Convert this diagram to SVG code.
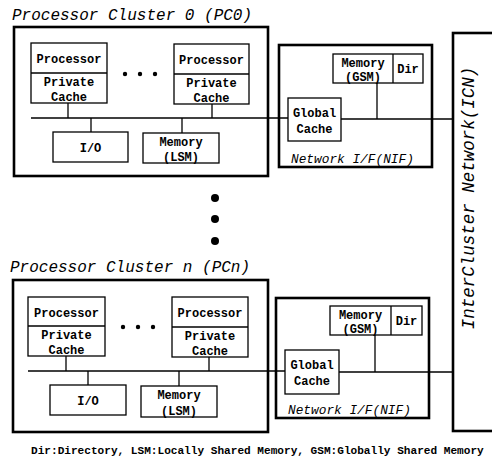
<svg xmlns="http://www.w3.org/2000/svg" width="492" height="458" viewBox="0 0 492 458">
<style>
.thick{fill:none;stroke:#000;stroke-width:2.6}
.box{fill:#fff;stroke:#000;stroke-width:1.3}
.ln{stroke:#000;stroke-width:1.3;fill:none}
.lbl{font-family:"Liberation Mono",monospace;font-weight:bold;font-size:12px;text-anchor:middle;fill:#000}
.ttl{font-family:"Liberation Mono",monospace;font-style:italic;font-size:16px;fill:#000}
.nif{font-family:"Liberation Mono",monospace;font-style:italic;font-size:12.8px;fill:#000}
.foot{font-family:"Liberation Mono",monospace;font-weight:bold;font-size:11.1px;fill:#000}
</style>
<rect width="492" height="458" fill="#fff"/>

<g id="connectors">
  <line class="ln" x1="31" y1="118" x2="288" y2="118"/>
  <line class="ln" x1="341" y1="119" x2="453" y2="119"/>
  <line class="ln" x1="68" y1="103" x2="68" y2="118"/>
  <line class="ln" x1="212" y1="104" x2="212" y2="118"/>
  <line class="ln" x1="91" y1="118" x2="91" y2="132"/>
  <line class="ln" x1="182" y1="118" x2="182" y2="133"/>
  <line class="ln" x1="377" y1="83" x2="377" y2="119"/>

  <line class="ln" x1="28" y1="371" x2="285" y2="371"/>
  <line class="ln" x1="339" y1="372" x2="453" y2="372"/>
  <line class="ln" x1="66" y1="356" x2="66" y2="371"/>
  <line class="ln" x1="209" y1="357" x2="209" y2="371"/>
  <line class="ln" x1="88" y1="371" x2="88" y2="385"/>
  <line class="ln" x1="179" y1="371" x2="179" y2="386"/>
  <line class="ln" x1="375" y1="335" x2="375" y2="372"/>
</g>

<g id="pc0">
  <text class="ttl" x="12" y="20">Processor Cluster 0 (PC0)</text>
  <rect class="thick" x="14" y="27" width="254" height="149"/>
</g>
<g id="pc0-proc1">
  <rect class="box" x="31" y="43" width="76" height="60"/>
  <line class="ln" x1="31" y1="73" x2="107" y2="73"/>
  <text class="lbl" x="69" y="63">Processor</text>
  <text class="lbl" x="69" y="86">Private</text>
  <text class="lbl" x="69" y="101">Cache</text>
</g>
<g id="pc0-dots">
  <circle cx="125" cy="74" r="2.2"/><circle cx="140" cy="74" r="2.2"/><circle cx="155" cy="74" r="2.2"/>
</g>
<g id="pc0-proc2">
  <rect class="box" x="174" y="44" width="75" height="60"/>
  <line class="ln" x1="174" y1="74" x2="249" y2="74"/>
  <text class="lbl" x="211.5" y="64">Processor</text>
  <text class="lbl" x="211.5" y="87">Private</text>
  <text class="lbl" x="211.5" y="102">Cache</text>
</g>
<g id="pc0-io">
  <rect class="box" x="53" y="132" width="75" height="30"/>
  <text class="lbl" x="90.5" y="152">I/O</text>
</g>
<g id="pc0-lsm">
  <rect class="box" x="143" y="133" width="76" height="30"/>
  <text class="lbl" x="181" y="146">Memory</text>
  <text class="lbl" x="181" y="161">(LSM)</text>
</g>
<g id="nif0">
  <rect class="thick" x="279" y="45" width="153" height="122"/>
  <text class="nif" x="291" y="163">Network I/F(NIF)</text>
</g>
<g id="nif0-gsm">
  <rect class="box" x="333" y="54" width="90" height="29"/>
  <line class="ln" x1="393" y1="54" x2="393" y2="83"/>
  <text class="lbl" x="363" y="67">Memory</text>
  <text class="lbl" x="363" y="81">(GSM)</text>
  <text class="lbl" x="408" y="73">Dir</text>
</g>
<g id="nif0-gc">
  <rect class="box" x="288" y="98" width="53" height="43"/>
  <text class="lbl" x="314.5" y="117">Global</text>
  <text class="lbl" x="314.5" y="133">Cache</text>
</g>

<g id="between-dots">
  <circle cx="215" cy="198" r="4"/><circle cx="215" cy="219" r="4"/><circle cx="215" cy="241" r="4"/>
</g>

<g id="pcn">
  <text class="ttl" x="10" y="272">Processor Cluster n (PCn)</text>
  <rect class="thick" x="13" y="280" width="255" height="152"/>
</g>
<g id="pcn-proc1">
  <rect class="box" x="28" y="297" width="77" height="59"/>
  <line class="ln" x1="28" y1="326" x2="105" y2="326"/>
  <text class="lbl" x="66.5" y="317">Processor</text>
  <text class="lbl" x="66.5" y="339">Private</text>
  <text class="lbl" x="66.5" y="354">Cache</text>
</g>
<g id="pcn-dots">
  <circle cx="123" cy="327" r="2.2"/><circle cx="138" cy="327" r="2.2"/><circle cx="153" cy="327" r="2.2"/>
</g>
<g id="pcn-proc2">
  <rect class="box" x="172" y="297" width="76" height="60"/>
  <line class="ln" x1="172" y1="327" x2="248" y2="327"/>
  <text class="lbl" x="210" y="317">Processor</text>
  <text class="lbl" x="210" y="340">Private</text>
  <text class="lbl" x="210" y="355">Cache</text>
</g>
<g id="pcn-io">
  <rect class="box" x="50" y="385" width="76" height="30"/>
  <text class="lbl" x="88" y="405">I/O</text>
</g>
<g id="pcn-lsm">
  <rect class="box" x="141" y="386" width="76" height="31"/>
  <text class="lbl" x="179" y="399">Memory</text>
  <text class="lbl" x="179" y="415">(LSM)</text>
</g>
<g id="nifn">
  <rect class="thick" x="276" y="298" width="153" height="120"/>
  <text class="nif" x="288" y="414">Network I/F(NIF)</text>
</g>
<g id="nifn-gsm">
  <rect class="box" x="330" y="306" width="92" height="29"/>
  <line class="ln" x1="391" y1="306" x2="391" y2="335"/>
  <text class="lbl" x="360.5" y="319">Memory</text>
  <text class="lbl" x="360.5" y="333">(GSM)</text>
  <text class="lbl" x="406.5" y="325">Dir</text>
</g>
<g id="nifn-gc">
  <rect class="box" x="285" y="350" width="54" height="44"/>
  <text class="lbl" x="312" y="369">Global</text>
  <text class="lbl" x="312" y="385">Cache</text>
</g>

<g id="icn">
  <rect class="thick" x="453" y="33" width="60" height="398"/>
  <text class="ttl" transform="translate(474,198) rotate(-90)" text-anchor="middle" style="font-size:17.5px">InterCluster Network(ICN)</text>
</g>

<text class="foot" x="31" y="454">Dir:Directory, LSM:Locally Shared Memory, GSM:Globally Shared Memory</text>
</svg>
